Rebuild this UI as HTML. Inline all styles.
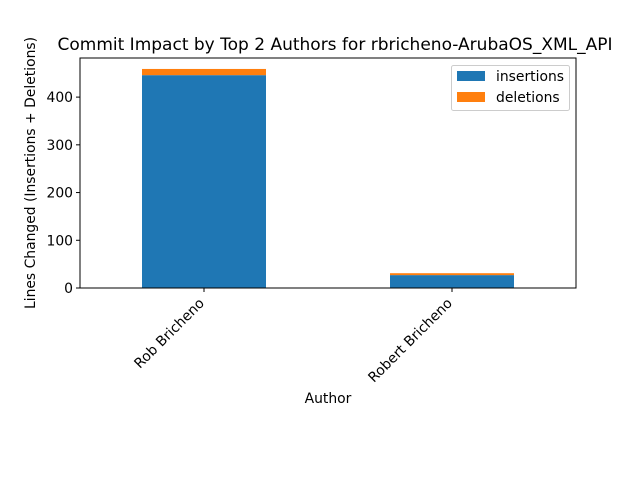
<!DOCTYPE html>
<html><head><meta charset="utf-8"><style>
body{margin:0;background:#fff}
svg{display:block;font-family:"DejaVu Sans","Liberation Sans",sans-serif}
</style></head><body>
<svg id="chart" width="640" height="480">
<rect width="640" height="480" fill="#fff"/>
<text x="335" y="50" font-size="17" text-anchor="middle">Commit Impact by Top 2 Authors for rbricheno-ArubaOS_XML_API</text>
<g id="bars"></g>
<g id="axes"></g>
<text x="328" y="403" font-size="13.9" text-anchor="middle">Author</text>
<text transform="translate(35,173) rotate(-90)" font-size="13.9" text-anchor="middle">Lines Changed (Insertions + Deletions)</text>
<g>
<rect x="451.5" y="65.5" width="118" height="45" fill="#fff" stroke="#ccc" rx="2"/>
<rect x="457" y="71" width="28" height="10" fill="#1f77b4"/>
<text x="496" y="81" font-size="13.9">insertions</text>
<rect x="457" y="92" width="28" height="10" fill="#ff7f0e"/>
<text x="496" y="102" font-size="13.9">deletions</text>
</g>
</svg>
<script>
const categories=["Rob Bricheno","Robert Bricheno"];
const insertions=[446,27];
const deletions=[13,4];
const yTicks=[0,100,200,300,400];
const NS="http://www.w3.org/2000/svg";
const L=80,R=576,T=58,B=288;
const yMax=Math.max(...insertions.map((v,i)=>v+deletions[i]))*1.05;
const y=v=>B-(v/yMax)*(B-T);
const band=(R-L)/categories.length;
const x=i=>L+band*(i+0.5);
const bw=band/2;
function mk(tag,attrs,parent){const e=document.createElementNS(NS,tag);for(const k in attrs)e.setAttribute(k,attrs[k]);parent.appendChild(e);return e;}
const bars=document.getElementById('bars'),axes=document.getElementById('axes');
categories.forEach((c,i)=>{
  const r1=mk('rect',{x:x(i)-bw/2,y:y(insertions[i]),width:bw,height:B-y(insertions[i]),fill:'#1f77b4'},bars);
  
  
  const tot=insertions[i]+deletions[i];
  const r2=mk('rect',{x:x(i)-bw/2,y:y(tot),width:bw,height:y(insertions[i])-y(tot),fill:'#ff7f0e'},bars);
  
  
  mk('line',{x1:x(i),x2:x(i),y1:B,y2:B+4,stroke:'#000'},axes);
  const t=mk('text',{transform:`translate(${x(i)+1},${B+16}) rotate(-45)`,'font-size':13.9,'text-anchor':'end'},axes);
  t.textContent=c;
  
  
});
yTicks.forEach(v=>{
  mk('line',{x1:L-4,x2:L,y1:y(v),y2:y(v),stroke:'#000'},axes);
  const t=mk('text',{x:L-7,y:y(v)+5,'font-size':13.9,'text-anchor':'end'},axes);
  t.textContent=v;
  
  
});
const f=mk('rect',{x:L,y:T,width:R-L,height:B-T,fill:'none',stroke:'#000','stroke-width':1},axes);


</script>
</body></html>
